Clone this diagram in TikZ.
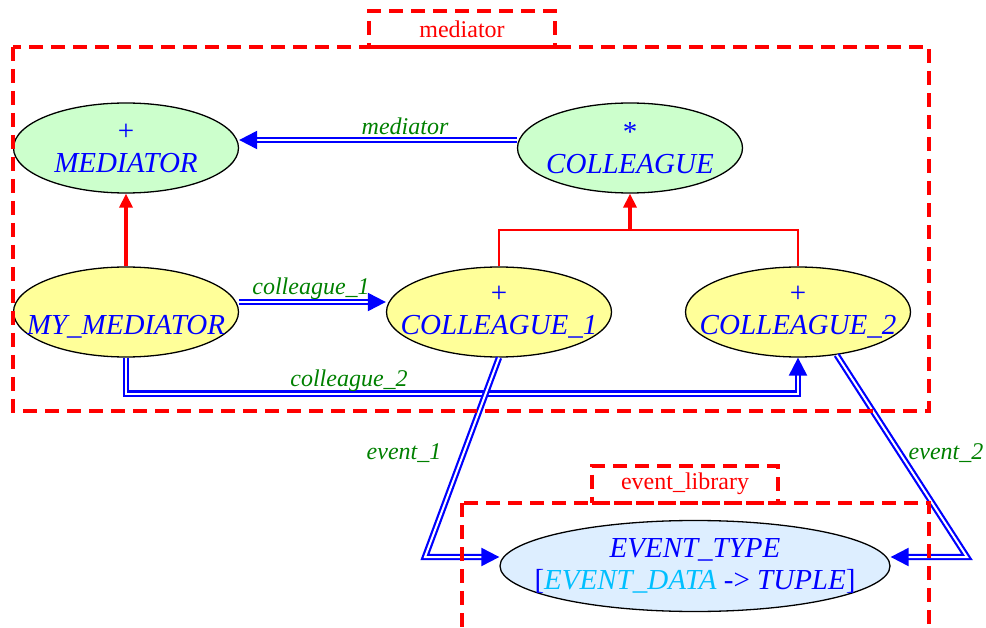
\documentclass[tikz,border=0pt]{standalone}
\usepackage{fontspec}
\setmainfont{Liberation Serif}
\usetikzlibrary{shapes.geometric,arrows.meta}
\definecolor{defgreen}{RGB}{204,255,204}
\definecolor{effyellow}{RGB}{255,255,153}
\definecolor{libblue}{RGB}{221,238,255}
\definecolor{lblgreen}{RGB}{0,128,0}
\definecolor{gencyan}{RGB}{0,191,255}
% two centred lines that do not widen the ellipse
\newcommand{\clsname}[2]{\makebox[0pt]{#1}\\\makebox[0pt]{#2}}
\begin{document}
\begin{tikzpicture}[x=1pt,y=-1pt,
  cls/.style={ellipse, draw=black, line width=1.3pt, inner sep=0pt,
    minimum width=225pt, minimum height=90pt, text=blue, align=center,
    font=\fontsize{29}{32}\selectfont},
  deferred/.style={cls, fill=defgreen},
  effective/.style={cls, fill=effyellow},
  cluster/.style={draw=red, line width=4pt, dash pattern=on 14pt off 8pt},
  clustertag/.style={cluster, text=red, inner sep=0pt, font=\fontsize{24}{26}\selectfont},
  edgelbl/.style={text=lblgreen, font=\fontsize{24}{26}\selectfont\itshape, inner sep=0pt},
  inherit/.style={red, line width=3.5pt, -{Triangle[length=14pt,width=13pt]}},
  client/.style={blue, line width=2.2pt, double=white, double distance=2pt,
    -{Triangle[length=18pt,width=18pt]}}]
\useasboundingbox (0,0) rectangle (986,628);
\node[deferred] (med) at (126,148) {\clsname{+}{\textit{MEDIATOR}}};
\node[deferred] (coll) at (630,148) {\clsname{*}{\textit{COLLEAGUE}}};
\node[effective] (mymed) at (126,312) {\clsname{\phantom{+}}{\textit{MY\_MEDIATOR}}};
\node[effective] (col1) at (499,312) {\clsname{+}{\textit{COLLEAGUE\_1}}};
\node[effective] (col2) at (798,312) {\clsname{+}{\textit{COLLEAGUE\_2}}};
\node[cls, fill=libblue, minimum width=390pt, minimum height=91pt] (evt) at (695,566)
  {\clsname{\textit{EVENT\_TYPE}}{[\textcolor{gencyan}{\textit{EVENT\_DATA}} -> \textit{TUPLE}]}};
% inheritance
\draw[inherit] (mymed) -- (med);
\coordinate (cbar) at (630,230);
\draw[red, line width=2pt] (col1.north) |- (cbar) -| (col2.north);
\draw[inherit] (cbar) -- (coll.south);
% client links
\draw[client] ([yshift=8pt]coll.west) -- ([yshift=8pt]med.east);
\node[edgelbl] (lmed) at (405,126) {mediator};
\draw[client] ([yshift=10pt]mymed.east) -- ([yshift=10pt]col1.west);
\node[edgelbl] (lcol1) at (311,289) {colleague\_1};
\draw[client] (mymed.south) -- ++(0,36) -| (col2.south);
\node[edgelbl] (lcol2) at (349,381) {colleague\_2};
\coordinate (e1) at (425,557);
\draw[client] (col1.south) -- (e1) -- ([yshift=9pt]evt.west);
\node[edgelbl] (lev1) at (404,453) {event\_1};
\coordinate (e2) at (967,557);
\draw[client] (col2.-48) -- (e2) -- ([yshift=9pt]evt.east);
\node[edgelbl] (lev2) at (946,453) {event\_2};
% clusters
\draw[cluster] (13,47) rectangle (929,411);
\node[clustertag, minimum width=186pt, minimum height=36pt] (medtag) at (462,29) {mediator};
\draw[cluster] (462,503) rectangle (929,660);
\node[clustertag, minimum width=186pt, minimum height=37pt] (evtag) at (685,484) {event\_library};
\end{tikzpicture}
\end{document}
